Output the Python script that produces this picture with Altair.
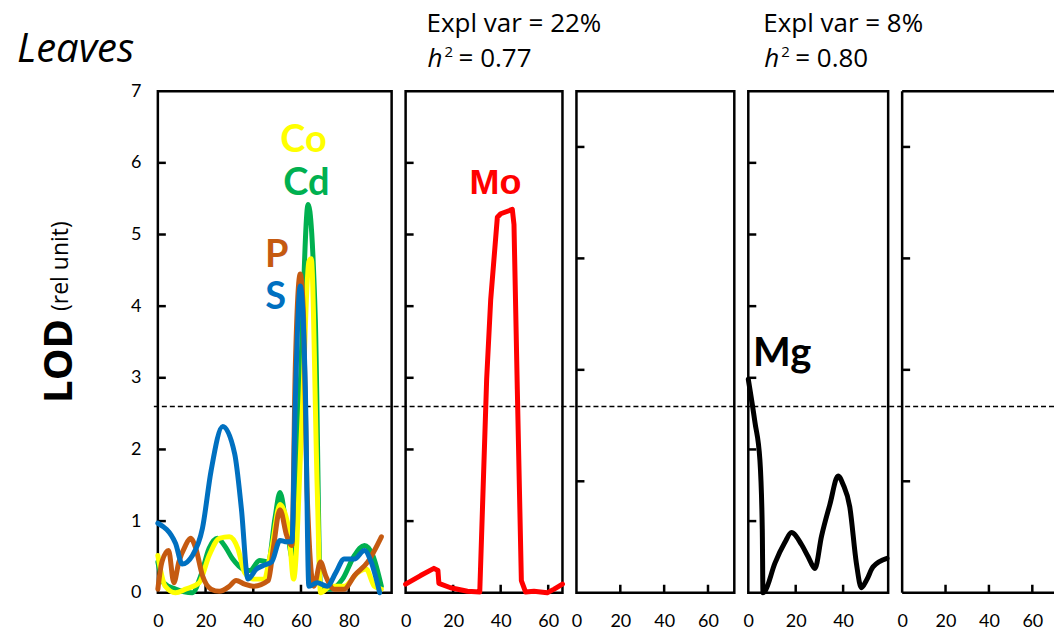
import altair as alt
import pandas as pd

# ---------------- data ----------------
# Panel 1 (Leaves): S, P, Cd, Co
S_x = [0, 7.4, 10.2, 14.5, 18.7, 22.3, 27.2, 32.2, 35, 37.8, 41.3, 44.2, 47.7, 51.2, 54, 56.2,
       57.6, 59.7, 61.8, 63.3, 66.8, 71, 74.6, 78.1, 82.4, 86.6, 89.4, 93]
S_y = [0.97, 0.69, 0.40, 0.52, 0.90, 1.70, 2.32, 1.94, 1.18, 0.19, 0.33, 0.38, 0.43, 0.73, 0.71, 0.71,
       2.65, 4.28, 2.89, 0.09, 0.14, 0.09, 0.28, 0.47, 0.47, 0.59, 0.43, 0.0]

Cd_x = [0, 2.4, 7.4, 14.5, 18, 21.5, 25, 27.9, 31.4, 35.7, 38.5, 42.7, 46.3, 49.1, 51.2, 54, 56.9,
        59.7, 63.0, 66, 68.2, 72.4, 77.4, 82.4, 86.6, 90.1, 93.7]
Cd_y = [0.43, 0.14, 0.05, 0.0, 0.24, 0.62, 0.76, 0.66, 0.47, 0.33, 0.31, 0.45, 0.43, 1.04, 1.40, 0.90, 0.43,
        2.89, 5.42, 3.83, 0.09, 0.05, 0.19, 0.52, 0.66, 0.52, 0.09]

Co_x = [0, 3.1, 7.4, 11.6, 17.3, 21.5, 25.8, 30, 33.5, 36.4, 39.9, 44.2, 47.7, 51.2, 54.8, 56.9,
        60.5, 63.3, 64.3, 66.8, 68.2, 72.4, 78.1, 83.8, 87.3, 90.8, 93.7]
Co_y = [0.52, 0.09, 0.0, 0.05, 0.14, 0.52, 0.76, 0.78, 0.62, 0.28, 0.19, 0.19, 0.62, 1.23, 0.90, 0.19,
        2.5, 4.62, 4.66, 1.47, 0.0, 0.09, 0.09, 0.28, 0.33, 0.09, 0.05]

P_x = [0, 1.7, 4.5, 6.7, 8.8, 11.6, 13.7, 15.9, 18.7, 22.3, 25.8, 30, 32.8, 36.4, 39.9, 46.3, 48.4,
       51.2, 54, 56.2, 57.6, 59.7, 61.1, 62.5, 65.4, 68.2, 70.3, 73.9, 78.1, 82.4, 88, 93.7]
P_y = [0.05, 0.43, 0.59, 0.14, 0.43, 0.66, 0.76, 0.62, 0.24, 0.05, 0.02, 0.09, 0.17, 0.12, 0.09, 0.17, 0.62,
       1.16, 0.80, 0.66, 3.12, 4.45, 3.83, 1.47, 0.09, 0.43, 0.24, 0.05, 0.05, 0.24, 0.43, 0.78]

# Panel 2: Mo
Mo_x = [0, 6.3, 11.9, 13.6, 14, 18.9, 26, 31.2, 34.1, 35.8, 38.6, 40, 44.9, 45.6, 47, 48.7, 50.5,
        54, 59.6, 62.5, 66]
Mo_y = [0.12, 0.24, 0.34, 0.31, 0.13, 0.07, 0.02, 0.01, 2.98, 4.09, 5.24, 5.29, 5.35, 5.14, 2.84, 0.17, 0.01,
        0.02, 0.0, 0.05, 0.12]

# Panel 4: Mg
Mg_x = [0, 2.8, 4.9, 5.9, 6.2, 7, 11.2, 15.4, 18.2, 22.5, 25.3, 28.1, 30.9, 34.4, 37.9, 40, 42.8,
        45.6, 47.7, 49.8, 52.6, 58.5]
Mg_y = [2.98, 2.38, 1.85, 0.89, 0.0, 0.02, 0.41, 0.70, 0.84, 0.67, 0.50, 0.34, 0.79, 1.23, 1.63, 1.51, 1.20,
        0.41, 0.07, 0.17, 0.36, 0.48]

# series label names, colours and positions (data units of their panel)
P1_names = ["Cd", "Co", "P", "S"]
P1_colors = ["#00B050", "#FFFF00", "#C55A11", "#0070C0"]
label_names = ["Co", "Cd", "P", "S"]
label_colors = ["#FFFF00", "#00B050", "#C55A11", "#0070C0"]
label_x = [61.1, 62.3, 49.8, 49.4]
label_y = [6.15, 5.55, 4.55, 3.96]
Mo_label = ("Mo", 37.8, 5.57)
Mg_label = ("Mg", 2.0, 3.17)

# axes
X_MAX = [98, 66, 72, 59, 70]
Y_MAX = [7, 7, 4.5, 7, 4.5]
X_LABELS = [[0, 20, 40, 60, 80], [0, 20, 40, 60], [0, 20, 40, 60], [0, 20, 40], [0, 20, 40, 60]]
X_INNER = [[20, 40, 60, 80], [20, 40, 60], [20, 40, 60], [20, 40], [20, 40, 60]]
Y_LABELS = [0, 1, 2, 3, 4, 5, 6, 7]
Y_INNER = [[1, 2, 3, 4, 5, 6], [1, 2, 3, 4, 5, 6], [1, 2, 3, 4], [1, 2, 3, 4, 5, 6], [1, 2, 3, 4]]
THRESHOLD = [2.6]

header_texts = [["Expl var = 22%", "0.77"], ["Expl var = 8%", "0.80"]]

# ---------------- layout ----------------
FONT = "Lato"
TFONT = "Open Sans"
H = 502
GAP = 14
WIDTHS = [234, 157, 158, 140, 152]
LEFT0 = 156
TOP0 = 89
TOTAL_RIGHT = LEFT0 + sum(WIDTHS) + GAP * 4
LW = 5
BORDER = alt.ViewBackground(stroke="black", strokeWidth=2.5)
one = pd.DataFrame({"a": [0]})


def enc_x(i):
    return alt.X("x:Q", scale=alt.Scale(domain=[0, X_MAX[i]], nice=False, zero=False),
                 axis=alt.Axis(values=X_LABELS[i], ticks=False, tickSize=0, domain=False, grid=False,
                               labelFont=FONT, labelFontSize=18, labelColor="black", labelPadding=20,
                               labelFlush=False, labelOverlap=False, title=None))


def enc_y(i):
    if i == 0:
        ax = alt.Axis(values=Y_LABELS, ticks=False, tickSize=0, domain=False, grid=False,
                      labelFont=FONT, labelFontSize=18, labelColor="black", labelPadding=17,
                      labelFlush=False, labelOverlap=False, title=None)
    else:
        ax = None
    return alt.Y("y:Q", scale=alt.Scale(domain=[0, Y_MAX[i]], nice=False, zero=False), axis=ax)


def line(i, xs, ys, color, interp="monotone"):
    df = pd.DataFrame({"x": xs, "y": ys})
    return alt.Chart(df).mark_line(color=color, strokeWidth=LW, interpolate=interp,
                                   strokeCap="round", strokeJoin="round").encode(x=enc_x(i), y=enc_y(i))


def ticks(i):
    yt = alt.Chart(pd.DataFrame({"y": Y_INNER[i]})).mark_rule(color="black", strokeWidth=2.5).encode(
        y=enc_y(i), x=alt.value(0), x2=alt.value(8))
    xt = alt.Chart(pd.DataFrame({"x": X_INNER[i]})).mark_rule(color="black", strokeWidth=2.5).encode(
        x=enc_x(i), y=alt.value(H), y2=alt.value(H - 8))
    return [yt, xt]


def dlabel(i, name, x, y, color, font=FONT, size=38, align="center"):
    return alt.Chart(pd.DataFrame({"x": [x], "y": [y]})).mark_text(
        text=name, color=color, font=font, fontSize=size, fontWeight="bold", align=align,
        baseline="alphabetic").encode(x=enc_x(i), y=enc_y(i))


def ptext(text, px, py, size, style="normal", weight="normal", align="left", angle=0, font=TFONT):
    kw = dict(text=text, font=font, fontSize=size, fontStyle=style, fontWeight=weight,
              align=align, baseline="alphabetic", color="black")
    if angle:
        kw["angle"] = angle
    return alt.Chart(one).mark_text(**kw).encode(x=alt.value(px), y=alt.value(py))


def header(left_px, texts):
    x0 = left_px
    return [
        ptext(texts[0], x0, 30 - TOP0, 26),
        ptext("h", x0 + 1, 65 - TOP0, 26, style="italic"),
        ptext("2", x0 + 18, 55 - TOP0, 15),
        ptext("= " + texts[1], x0 + 32, 65 - TOP0, 26),
    ]


# ---------- panel 1 ----------
p1_layers = ticks(0)
p1_layers.append(
    alt.Chart(pd.DataFrame({"y": THRESHOLD})).mark_rule(color="black", strokeWidth=1.5, strokeDash=[5, 3]).encode(
        y=enc_y(0), x=alt.value(-4), x2=alt.value(TOTAL_RIGHT - LEFT0)))
series = {"Cd": (Cd_x, Cd_y), "Co": (Co_x, Co_y), "P": (P_x, P_y), "S": (S_x, S_y)}
for name, col in zip(P1_names, P1_colors):
    xs, ys = series[name]
    p1_layers.append(line(0, xs, ys, col))
for n, c, lx, ly in zip(label_names, label_colors, label_x, label_y):
    p1_layers.append(dlabel(0, n, lx, ly, c))
p1_layers += [
    ptext("Leaves", 15 - LEFT0, 60 - TOP0, 40, style="italic"),
    ptext("LOD", 70 - LEFT0, 401 - TOP0, 40, weight="bold", angle=270),
    ptext("(rel unit)", 66 - LEFT0, 309 - TOP0, 23, angle=270),
    # invisible anchor fixing the top-left corner of the page
    alt.Chart(one).mark_rule(opacity=0, strokeWidth=0).encode(
        x=alt.value(-LEFT0), x2=alt.value(-LEFT0 + 2), y=alt.value(-TOP0)),
]
panel1 = alt.layer(*p1_layers).properties(width=WIDTHS[0], height=H, view=BORDER)

# ---------- panel 2 ----------
p2_layers = ticks(1) + [line(1, Mo_x, Mo_y, "#FF0000", "linear"),
                        dlabel(1, Mo_label[0], Mo_label[1], Mo_label[2], "#FF0000",
                               font="Liberation Sans", size=36)]
p2_layers += header(21, header_texts[0])
panel2 = alt.layer(*p2_layers).properties(width=WIDTHS[1], height=H, view=BORDER)

# ---------- panel 3 (empty) ----------
panel3 = alt.layer(*ticks(2)).properties(width=WIDTHS[2], height=H, view=BORDER)

# ---------- panel 4 ----------
p4_layers = ticks(3) + [line(3, Mg_x, Mg_y, "#000000"),
                        dlabel(3, Mg_label[0], Mg_label[1], Mg_label[2], "#000000", size=40, align="left")]
p4_layers += header(15, header_texts[1])
panel4 = alt.layer(*p4_layers).properties(width=WIDTHS[3], height=H, view=BORDER)

# ---------- panel 5 (cut off at the right edge) ----------
W5 = WIDTHS[4]
p5_layers = ticks(4) + [
    alt.Chart(one).mark_rule(color="black", strokeWidth=2.5).encode(x=alt.value(0), x2=alt.value(W5), y=alt.value(0)),
    alt.Chart(one).mark_rule(color="black", strokeWidth=2.5).encode(x=alt.value(0), y=alt.value(0), y2=alt.value(H)),
    alt.Chart(one).mark_rule(color="black", strokeWidth=2.5).encode(x=alt.value(0), x2=alt.value(W5), y=alt.value(H)),
]
panel5 = alt.layer(*p5_layers).properties(width=W5, height=H,
                                           view=alt.ViewBackground(stroke="transparent"))

chart = alt.hconcat(panel1, panel2, panel3, panel4, panel5, spacing=GAP, bounds="flush").properties(
    padding=0
).configure_view(stroke="black", strokeWidth=2.5).configure(background="white")

chart.save("out.html", embed_options={"renderer": "svg", "actions": False})
